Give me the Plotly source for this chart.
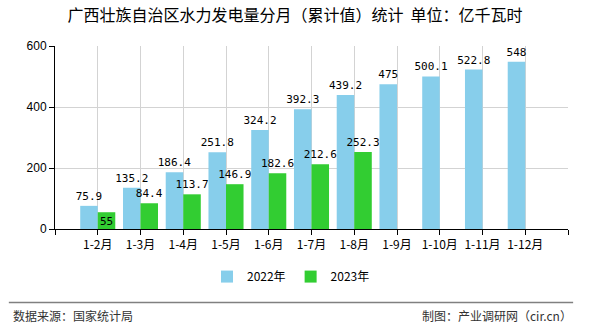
import plotly.graph_objects as go

categories = ["1-2月", "1-3月", "1-4月", "1-5月", "1-6月", "1-7月", "1-8月",
              "1-9月", "1-10月", "1-11月", "1-12月"]
values_2022 = [75.9, 135.2, 186.4, 251.8, 324.2, 392.3, 439.2, 475, 500.1, 522.8, 548]
values_2023 = [55, 84.4, 113.7, 146.9, 182.6, 212.6, 252.3]
y_ticks = [0, 200, 400, 600]

pos = list(range(1, len(categories) + 1))
font_cjk = "Noto Sans CJK SC"
label_font = dict(family="DejaVu Sans Mono", size=11, color="#000")

def fmt(v):
    return f"{v:g}"

fig = go.Figure()
fig.add_trace(go.Bar(
    x=pos, y=values_2022, name="2022年", marker=dict(color="#87CEEB", line=dict(width=0)),
    text=[fmt(v) for v in values_2022], textposition="outside", constraintext="none",
    textfont=label_font, outsidetextfont=label_font, cliponaxis=False,
))
tp23 = ["inside"] + ["outside"] * (len(values_2023) - 1)
fig.add_trace(go.Bar(
    x=pos[:len(values_2023)], y=values_2023, name="2023年", marker=dict(color="#32CD32", line=dict(width=0)),
    text=[fmt(v) for v in values_2023], textposition=tp23, insidetextanchor="end",
    constraintext="none",
    textfont=label_font, insidetextfont=label_font, outsidetextfont=label_font,
    cliponaxis=False,
))

tickvals = [0] + pos + [len(categories) + 1]
ticktext = [""] + categories + [""]

fig.update_layout(
    width=590, height=330,
    margin=dict(l=55, r=22, t=46, b=101),
    paper_bgcolor="white", plot_bgcolor="white",
    barmode="group", bargap=0.18, bargroupgap=0,
    uniformtext=dict(mode="show", minsize=11),
    showlegend=True,
    legend=dict(orientation="h", x=0.46, xanchor="center", y=-0.26, yanchor="middle",
                font=dict(family=font_cjk, size=12, color="#000"),
                itemwidth=30, traceorder="normal"),
    title=dict(text="广西壮族自治区水力发电量分月（累计值）统计  单位：亿千瓦时",
               x=0.5, xanchor="center", y=0.952, yanchor="middle",
               font=dict(family=font_cjk, size=16, color="#000")),
    font=dict(family=font_cjk, size=11, color="#000"),
)
fig.update_xaxes(
    range=[0, len(categories) + 1], tickmode="array", tickvals=tickvals, ticktext=ticktext,
    showline=True, linecolor="#000", linewidth=1, ticks="outside", ticklen=5, tickcolor="#000",
    showgrid=True, gridcolor="#d3d3d3", gridwidth=1, zeroline=False,
    tickfont=dict(family=font_cjk, size=12, color="#000"),
)
fig.update_yaxes(
    range=[0, 600], tickvals=y_ticks, showline=True, linecolor="#000", linewidth=1,
    ticks="outside", ticklen=5, tickcolor="#000",
    showgrid=True, gridcolor="#d3d3d3", gridwidth=1, zeroline=False,
    tickfont=dict(family="Liberation Sans", size=12, color="#000"),
)

fig.add_shape(type="line", xref="paper", yref="paper", x0=-0.09, x1=1.01, y0=-0.401, y1=-0.401,
              line=dict(color="#808080", width=1.5))
fig.add_annotation(text="数据来源：国家统计局", xref="paper", yref="paper", x=-0.086, y=-0.475,
                   xanchor="left", yanchor="middle", showarrow=False,
                   font=dict(family=font_cjk, size=12, color="#333"))
fig.add_annotation(text="制图：产业调研网（cir.cn）", xref="paper", yref="paper", x=1.012, y=-0.475,
                   xanchor="right", yanchor="middle", showarrow=False,
                   font=dict(family=font_cjk, size=12, color="#333"))

fig.write_html("out.html")
